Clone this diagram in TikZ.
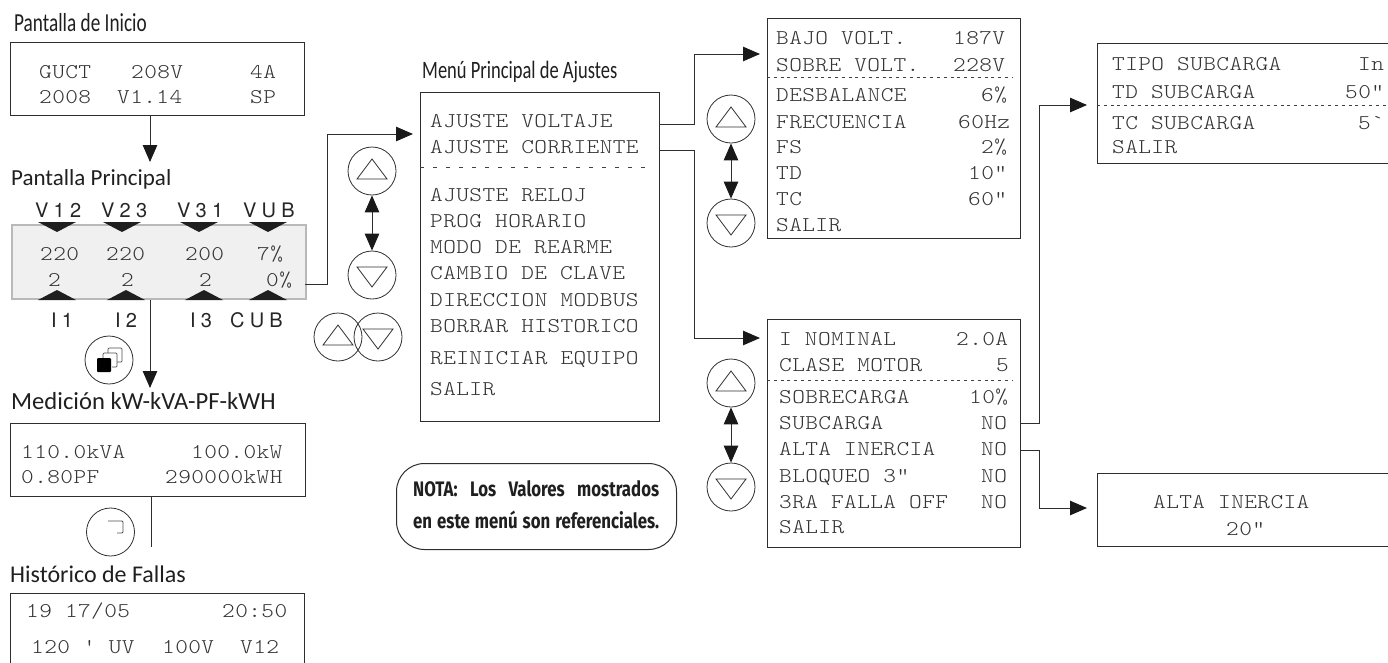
\documentclass[tikz,border=0pt]{standalone}
\usepackage{fontspec}
\usetikzlibrary{arrows.meta}
\newfontfamily\lcdfont[FakeStretch=1.15,LetterSpace=1.9]{Latin Modern Mono Light}
\newfontfamily\headfont{Carlito}
\newfontfamily\condfont[FakeStretch=0.74]{Carlito}
\newfontfamily\notefont[FakeStretch=0.8]{Fira Sans}
\newfontfamily\tagfont[LetterSpace=26]{TeX Gyre Heros}

\begin{document}
\begin{tikzpicture}[
    x=1pt, y=-1pt,
    >={Triangle[length=17pt,width=14.5pt,color=black!90]},
    screen/.style={draw=black!82, line width=1pt, anchor=north west, inner sep=0pt, fill=white},
    lcd/.style={anchor=base west, inner sep=0pt, text=black!80,
                font=\lcdfont\fontsize{21}{21}\selectfont},
    head/.style={anchor=base west, inner sep=0pt, text=black!88,
                 font=\headfont\fontsize{24}{24}\selectfont},
    cond/.style={anchor=base west, inner sep=0pt, text=black!88,
                 font=\condfont\fontsize{25}{25}\selectfont},
    tagl/.style={anchor=base west, inner sep=0pt, text=black!85,
                 font=\tagfont\fontsize{20}{20}\selectfont},
    link/.style={->, line width=1pt, black!82},
    bilink/.style={<->, line width=1pt, black!82},
    wire/.style={line width=1pt, black!82},
    sep/.style={line width=0.9pt, black!75, dash pattern=on 3pt off 3.8pt},
    widesep/.style={line width=0.9pt, black!75, dash pattern=on 4pt off 9pt},
    key/.style={circle, draw=black!82, line width=0.8pt, minimum size=48pt, inner sep=0pt},
    keyup/.style={key, path picture={
        \draw[line width=0.8pt, black!82] (path picture bounding box.center)
          ++(-15,8) -- ++(30,0) -- ++(-15,-20) -- cycle;}},
    keydown/.style={key, path picture={
        \draw[line width=0.8pt, black!82] (path picture bounding box.center)
          ++(-15,-8) -- ++(30,0) -- ++(-15,20) -- cycle;}},
]
\clip (0,0) rectangle (1388,662);

% ============================ pantalla de inicio ========================
\node[cond, font=\condfont\fontsize{26}{26}\selectfont] (tinicio) at (14,31) {Pantalla de Inicio};
\node[screen, minimum width=294pt, minimum height=73pt] (inicio) at (10,42) {};
\foreach \n/\x/\y/\t in {a1/39/78/GUCT, a2/131/78/208V, a3/250/78/4A,
                         a4/39/103/2008, a5/117/103/V1.14, a6/250/103/SP}
  \node[lcd] (\n) at (\x,\y) {\t};

% ============================ pantalla principal ========================
\node[head, font=\headfont\fontsize{23}{23}\selectfont] (tprincipal) at (11,185) {Pantalla Principal};
\node[draw=gray!55, fill=gray!12, line width=2.4pt, anchor=north west, inner sep=0pt,
      minimum width=294pt, minimum height=74pt] (principal) at (11,224) {};
\foreach \n/\x/\t in {v1/35/V12, v2/101/V23, v3/177/V31, v4/243/VUB}
  \node[tagl] (\n) at (\x,217) {\t};
\foreach \n/\x/\t in {i1/51/I1, i2/115/I2, i3/190/I3, i4/230/CUB}
  \node[tagl] (\n) at (\x,327) {\t};
\foreach \x in {57,122,199,268}
  \fill[black!88] (\x,232) -- ++(-19,-10) -- ++(38,0) -- cycle;
\foreach \x in {57,126,204,268}
  \fill[black!88] (\x,290) -- ++(-19,10) -- ++(38,0) -- cycle;
\foreach \n/\x/\y/\t in {p1/40/260/220, p2/106/260/220, p3/185/260/200, p4/257/260/7\%,
                         p5/48/286/2, p6/121/286/2, p7/199/286/2, p8/266/286/0\%}
  \node[lcd] (\n) at (\x,\y) {\t};

\coordinate (tipprincipal) at (150,162);
\draw[link] (inicio.south -| tipprincipal) -- (tipprincipal);

% ============================ medicion ==================================
\node[head, font=\headfont\fontsize{24.6}{24.6}\selectfont] (tmedicion) at (11,409) {Medición kW-kVA-PF-kWH};
\node[screen, minimum width=295pt, minimum height=73pt] (medicion) at (10,423) {};
\foreach \n/\x/\y/\t in {m1/21/458/110.0kVA, m2/191/458/100.0kW,
                         m3/21/483/0.80PF, m4/165/483/290000kWH}
  \node[lcd] (\n) at (\x,\y) {\t};

\coordinate (tipmedicion) at (150,388);
\draw[link] (principal.south -| tipmedicion) -- (tipmedicion);

\node[key] (keystack) at (109,360) {};
\draw[line width=0.7pt, black!70, rounded corners=1pt] (108,353) -- (108,348) -- (122,348) -- (122,362) -- (117,362);
\draw[line width=0.7pt, black!70, rounded corners=1pt] (103,358) -- (103,353) -- (117,353) -- (117,367) -- (112,367);
\fill[black, rounded corners=1pt] (97,358) rectangle (111,372);

% ============================ historico =================================
\node[head] (thistorico) at (10,582) {Histórico de Fallas};
\node[screen, minimum width=294pt, minimum height=90pt] (historico) at (10,593) {};
\foreach \n/\x/\y/\t in {h1/26/617/{19 17/05}, h2/222/617/20:50,
                         h3/31/653/120 ' UV, h4/162/653/100V, h5/240/653/V12}
  \node[lcd] (\n) at (\x,\y) {\t};

\coordinate (endmedicion) at (151,547);
\draw[wire] (medicion.south -| endmedicion) -- (endmedicion);

\node[key] (keyback) at (110.5,532) {};
\draw[line width=0.8pt, black!70, rounded corners=1pt] (108,521) -- (123,521) -- (123,533) -- (117,533);

% ============================ menu principal ============================
\node[cond] (tmenu) at (422,78) {Menú Principal de Ajustes};
\node[screen, minimum width=239pt, minimum height=329pt] (menu) at (420,92) {};
\foreach \n/\y/\t in {r1/127/AJUSTE VOLTAJE, r2/153/AJUSTE CORRIENTE,
                      r3/201/AJUSTE RELOJ, r4/227/PROG HORARIO, r5/253/MODO DE REARME,
                      r6/279/CAMBIO DE CLAVE, r7/306/DIRECCION MODBUS,
                      r8/332/BORRAR HISTORICO, r9/364/REINICIAR EQUIPO, r10/395/SALIR}
  \node[lcd] (\n) at (430,\y) {\t};
\coordinate (sepmenu) at (652,167);
\draw[widesep] (menu.west |- sepmenu) -- (sepmenu);

\node[keyup] (menuup) at (372,171) {};
\node[keydown] (menudown) at (372,275) {};
\draw[bilink] (menuup) -- (menudown);
\node[keyup] (bothup) at (338,337) {};
\node[keydown] (bothdown) at (378,337) {};

\coordinate (tipmenu) at (413,134);
\coordinate (outprincipal) at (305,284);
\draw[link] (outprincipal) -- ++(22,0) |- (tipmenu);

% ============================ nota ======================================
\node[draw=black!82, line width=1pt, rounded corners=28pt, fill=white, inner sep=0pt,
      anchor=north west, minimum width=280pt, minimum height=86pt] (nota) at (396,463) {};
\node[anchor=base west, inner sep=0pt, text=black!88, font=\notefont\bfseries\fontsize{21}{21}\selectfont] (nota1) at (413,496)
  {\makebox[246pt][s]{NOTA: Los Valores mostrados}};
\node[anchor=base west, inner sep=0pt, text=black!88, font=\notefont\bfseries\fontsize{21}{21}\selectfont] (nota2) at (413,528)
  {\makebox[246pt][s]{en este menú son referenciales.}};

% ============================ ajuste voltaje ============================
\node[screen, minimum width=253pt, minimum height=220pt] (volt) at (767,18) {};
\foreach \n/\y/\t in {b1/44/BAJO VOLT., b2/71/SOBRE VOLT., b3/101/DESBALANCE,
                      b4/128/FRECUENCIA, b5/153/FS, b6/179/TD, b7/205/TC, b8/231/SALIR}
  \node[lcd] (\n) at (776,\y) {\t};
\foreach \n/\x/\y/\t in {bv1/953/44/187V, bv2/953/71/228V, bv3/981/101/6\%, bv4/958/128/60Hz,
                         bv5/981/153/2\%, bv6/968/179/10", bv7/968/205/60"}
  \node[lcd] (\n) at (\x,\y) {\t};
\coordinate (sepvolt) at (1012,77);
\draw[sep] (volt.west |- sepvolt) -- (sepvolt);

\node[keyup] (voltup) at (731,119) {};
\node[keydown] (voltdown) at (731,223) {};
\draw[bilink] (voltup) -- (voltdown);

\coordinate (outvolt) at (659,124);
\coordinate (tipvolt) at (760,54);
\draw[link] (outvolt) -- ++(35,0) |- (tipvolt);

% ============================ ajuste corriente ==========================
\node[screen, minimum width=253pt, minimum height=228pt] (corr) at (767,319) {};
\foreach \n/\y/\t in {c1/345/I NOMINAL, c2/371/CLASE MOTOR, c3/403/SOBRECARGA, c4/429/SUBCARGA,
                      c5/455/ALTA INERCIA, c6/482/BLOQUEO 3", c7/508/3RA FALLA OFF, c8/533/SALIR}
  \node[lcd] (\n) at (779,\y) {\t};
\foreach \n/\x/\y/\t in {cv1/956/345/2.0A, cv2/996/371/5, cv3/969/403/10\%, cv4/981/429/NO,
                         cv5/981/455/NO, cv6/981/482/NO, cv7/981/508/NO}
  \node[lcd] (\n) at (\x,\y) {\t};
\coordinate (sepcorr) at (1012,380);
\draw[sep] (corr.west |- sepcorr) -- (sepcorr);

\node[keyup] (corrup) at (731,383) {};
\node[keydown] (corrdown) at (731,487) {};
\draw[bilink] (corrup) -- (corrdown);

\coordinate (outcorr) at (659,150);
\coordinate (tipcorr) at (760,338);
\draw[link] (outcorr) -- ++(35,0) |- (tipcorr);

% ============================ subcarga ==================================
\node[screen, minimum width=320pt, minimum height=120pt] (sub) at (1097,43) {};
\foreach \n/\y/\t in {s1/70/TIPO SUBCARGA, s2/98/TD SUBCARGA, s3/129/TC SUBCARGA, s4/153/SALIR}
  \node[lcd] (\n) at (1112,\y) {\t};
\foreach \n/\x/\y/\t in {sv1/1358/70/In, sv2/1345/98/50", sv3/1358/129/5`}
  \node[lcd] (\n) at (\x,\y) {\t};
\coordinate (sepsub) at (1388,105);
\draw[sep] (sub.west |- sepsub) -- (sepsub);

\coordinate (outsub) at (1020,423);
\coordinate (tipsub) at (1087,105);
\draw[link] (outsub) -- ++(19,0) |- (tipsub);

% ============================ alta inercia ==============================
\node[screen, minimum width=320pt, minimum height=73pt] (alta) at (1097,473) {};
\node[lcd] (al1) at (1153,508) {ALTA INERCIA};
\node[lcd] (al2) at (1226,535) {20"};

\coordinate (outalta) at (1020,450);
\coordinate (tipalta) at (1087,508);
\draw[link] (outalta) -- ++(19,0) |- (tipalta);

\end{tikzpicture}
\end{document}
